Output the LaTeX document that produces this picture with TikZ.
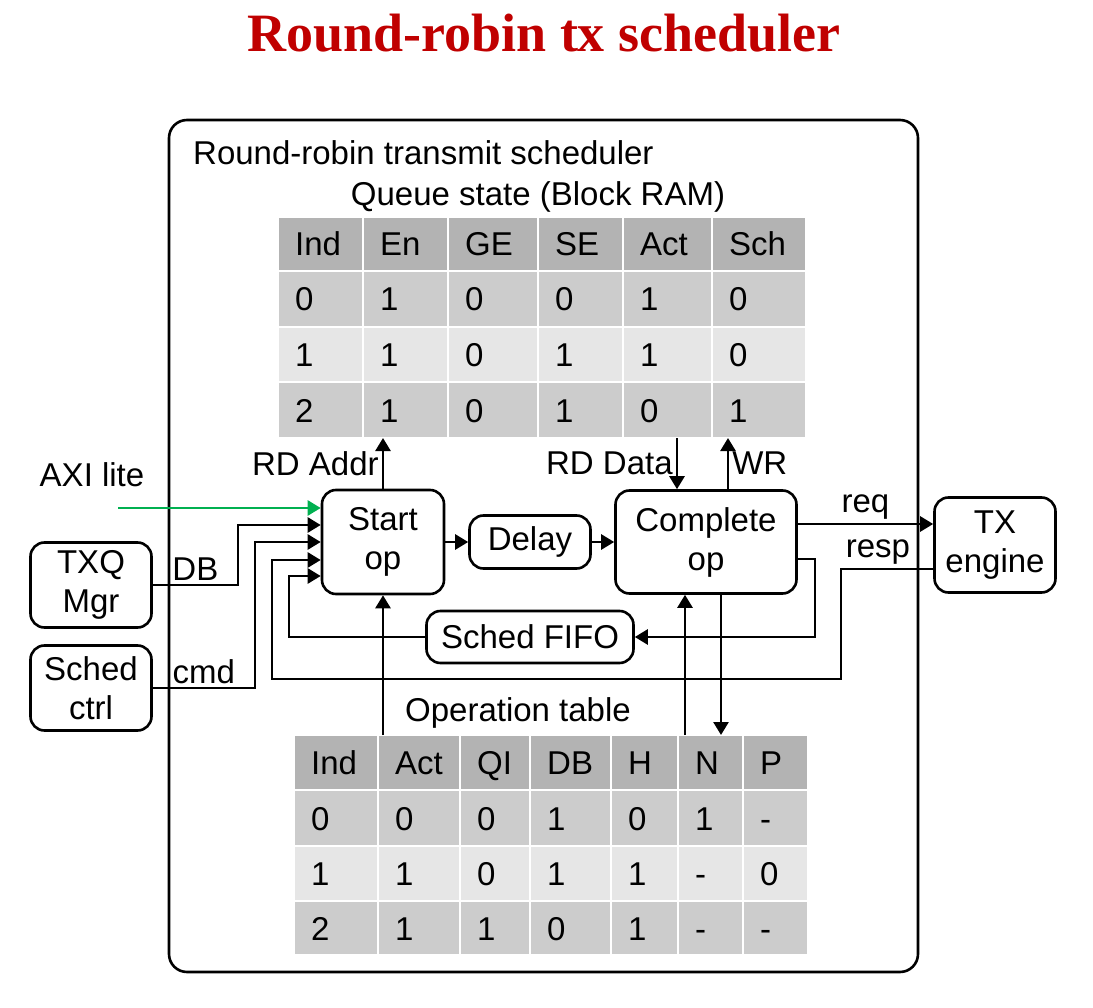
\documentclass[tikz,border=0pt]{standalone}
\usepackage{fontspec}
\setmainfont{Liberation Sans}
\newfontfamily\titlefont{Liberation Serif}
\usetikzlibrary{arrows.meta}

\definecolor{titlered}{HTML}{C00000}
\definecolor{axigreen}{HTML}{00B050}
\definecolor{hdrgray}{HTML}{B3B3B3}
\definecolor{darkrow}{HTML}{CCCCCC}
\definecolor{lightrow}{HTML}{E6E6E6}

\tikzset{
  blk/.style={draw, line width=2.6pt, rounded corners=14pt, inner sep=0pt, align=center},
  arr/.style={line width=2.6pt, -{Triangle[length=13pt,width=15pt]}},
  lbl/.style={inner sep=3pt},
  cellline/.style={draw=white, line width=2pt},
  celltext/.style={anchor=base west, inner sep=0pt},
}

% one table row: column edges, top, bottom, fill, name, cells
\newcommand\tabrow[6]{%
  \foreach \celltxt [count=\ci] in {#6}{%
    \pgfmathsetmacro\xa{{#1}[\ci-1]}%
    \pgfmathsetmacro\xb{{#1}[\ci]}%
    \draw[cellline, fill=#4] (\xa,#2) rectangle (\xb,#3);
    \node[celltext] (#5-\ci) at ({\xa+17},{(#2+#3)/2+12}) {\celltxt};
  }%
}

\begin{document}
\begin{tikzpicture}[x=1pt,y=-1pt,font=\fontsize{33}{39}\selectfont]
  \useasboundingbox (0,0) rectangle (1093,1008);

  \node[font=\titlefont\bfseries\fontsize{54}{60}\selectfont, text=titlered] (title) at (544,33) {Round-robin tx scheduler};

  % scheduler frame
  \draw[line width=2.6pt, rounded corners=18pt] (169,120) rectangle (918,972);
  \node[anchor=west, inner sep=0pt] (name) at (193,153) {Round-robin transmit scheduler};

  % queue state table
  \node (qlbl) at (538,197) {Queue state (Block RAM)};
  \tabrow{278,363,448,538,623,712,806}{217}{271}{hdrgray}{qh}{Ind,En,GE,SE,Act,Sch}
  \tabrow{278,363,448,538,623,712,806}{271}{327}{darkrow}{qa}{0,1,0,0,1,0}
  \tabrow{278,363,448,538,623,712,806}{327}{382}{lightrow}{qb}{1,1,0,1,1,0}
  \tabrow{278,363,448,538,623,712,806}{382}{438}{darkrow}{qc}{2,1,0,1,0,1}
  \coordinate (qbot) at (0,438);

  % operation table
  \node (olbl) at (518,713) {Operation table};
  \tabrow{294,378,460,530,611,678,743,808}{735}{790}{hdrgray}{oh}{Ind,Act,QI,DB,H,N,P}
  \tabrow{294,378,460,530,611,678,743,808}{790}{846}{darkrow}{oa}{0,0,0,1,0,1,-}
  \tabrow{294,378,460,530,611,678,743,808}{846}{901}{lightrow}{ob}{1,1,0,1,1,-,0}
  \tabrow{294,378,460,530,611,678,743,808}{901}{955}{darkrow}{oc}{2,1,1,0,1,-,-}
  \coordinate (otop) at (0,735);

  % blocks
  \node[blk, minimum width=122pt, minimum height=104pt] (st) at (383,542) {Start\\op};
  \node[blk, minimum width=121pt, minimum height=53pt] (dl) at (530,542) {Delay};
  \node[blk, minimum width=181pt, minimum height=103pt] (cp) at (706,542) {Complete\\op};
  \node[blk, minimum width=207pt, minimum height=52pt] (ff) at (530,637) {Sched FIFO};
  \node[blk, minimum width=121pt, minimum height=95pt] (tx) at (995,545) {TX\\engine};
  \node[blk, minimum width=121pt, minimum height=85pt] (txq) at (91,585) {TXQ\\Mgr};
  \node[blk, minimum width=121pt, minimum height=85pt] (sc) at (91,688) {Sched\\ctrl};

  % queue state access
  \draw[arr] (st.north) -- node[lbl,left] {RD Addr} (st.north |- qbot);
  \draw[arr] ([xshift=-29pt]cp.north |- qbot) -- node[lbl,left] {RD Data} ([xshift=-29pt]cp.north);
  \draw[arr] ([xshift=22pt]cp.north) -- node[lbl,right] {WR} ([xshift=22pt]cp.north |- qbot);

  % inputs to start op
  \coordinate (axi) at (118,508);
  \node (axil) at (92,475) {AXI lite};
  \draw[arr, draw=axigreen, fill=axigreen] (axi) -- (axi -| st.west);
  \draw[arr] (txq.east) -- node[lbl,above] {DB} (238,585) |- ([yshift=17pt]st.west);
  \draw[arr] (sc.east) -- node[lbl,above] {cmd} (255,688) |- (st.west);
  \draw[arr] ([yshift=-24pt]tx.west) -- node[lbl,above,pos=0.6] {resp} (841,569) |- (272,679) |- ([yshift=-18pt]st.west);
  \draw[arr] (ff.west) -| (289,576) -- ([yshift=-34pt]st.west);

  % pipeline
  \draw[arr] (st.east) -- (dl.west);
  \draw[arr] (dl.east) -- (cp.west);
  \draw[arr] ([yshift=18pt]cp.east) -- node[lbl,above] {req} ([yshift=18pt]cp.east -| tx.west);
  \draw[arr] ([yshift=-17pt]cp.east) -| (815,637) -- (ff.east);

  % operation table access
  \draw[arr] (st.south |- otop) -- (st.south);
  \draw[arr] ([xshift=-21pt]cp.south |- otop) -- ([xshift=-21pt]cp.south);
  \draw[arr] ([xshift=15pt]cp.south) -- ([xshift=15pt]cp.south |- otop);
\end{tikzpicture}
\end{document}
